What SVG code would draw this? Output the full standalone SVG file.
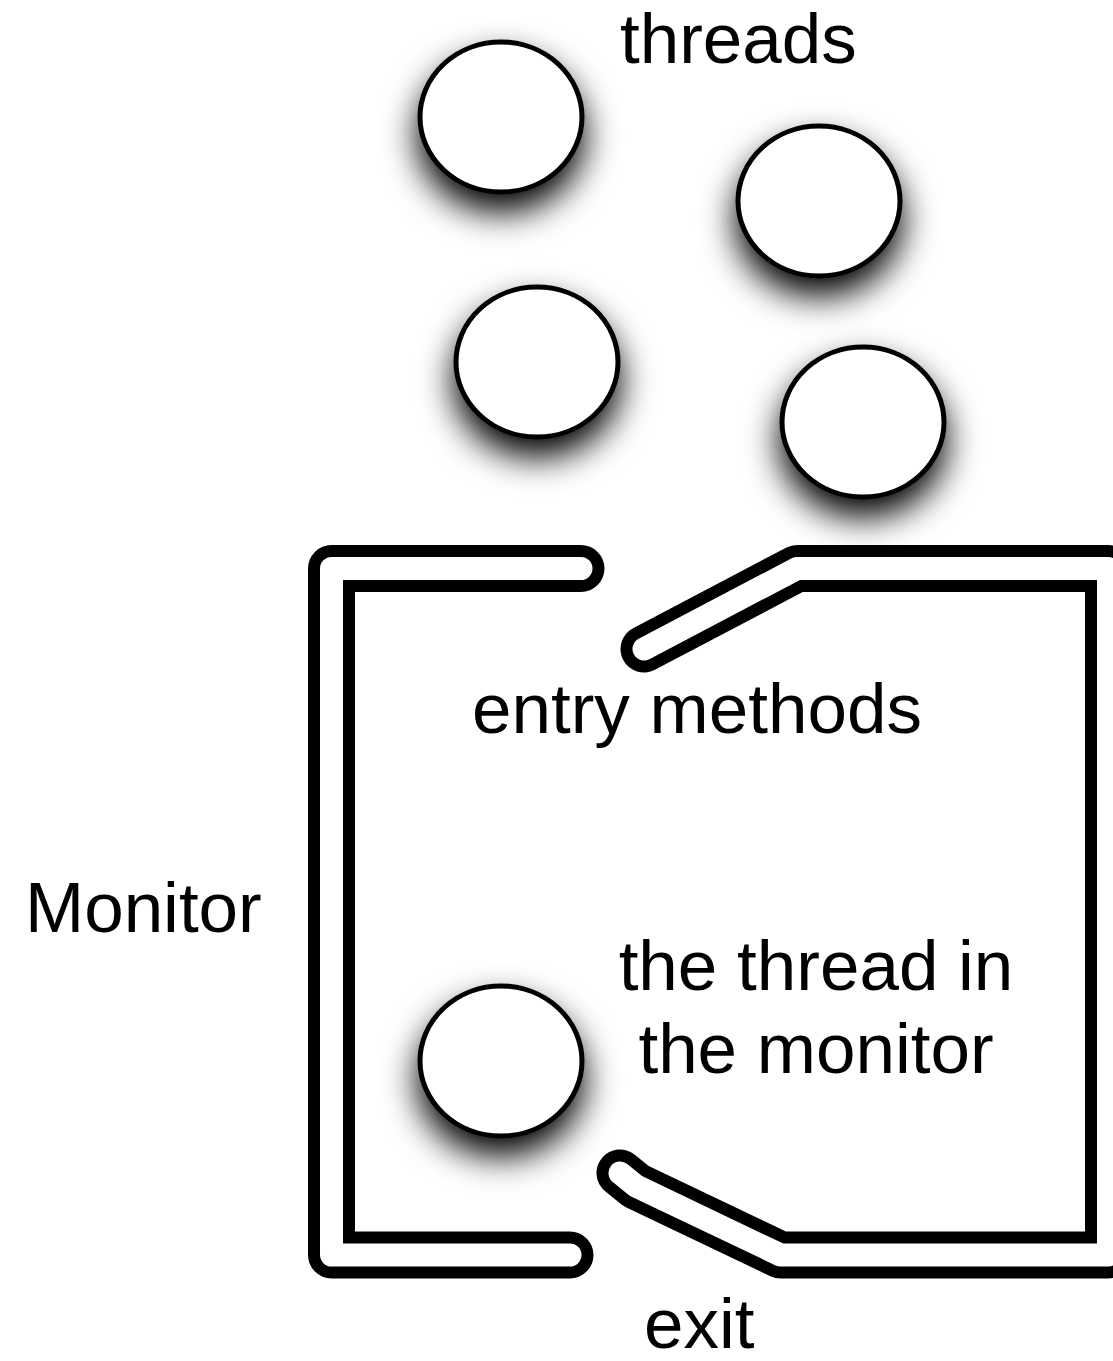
<svg xmlns="http://www.w3.org/2000/svg" width="1113" height="1361" viewBox="0 0 1113 1361">
<style>
.lbl{font-family:"Liberation Sans",Arial,Helvetica,sans-serif;font-size:71px;fill:#000}
.thr{fill:#fff;stroke:#000;stroke-width:5;filter:url(#sh)}
.wo{fill:none;stroke:#000;stroke-width:47;stroke-linejoin:round;stroke-linecap:round}
.wi{fill:none;stroke:#fff;stroke-width:23;stroke-linejoin:round;stroke-linecap:round}
</style>
<defs>
<filter id="sh" x="-60%" y="-60%" width="220%" height="240%" color-interpolation-filters="sRGB">
<feGaussianBlur in="SourceAlpha" stdDeviation="17"/>
<feOffset dx="0" dy="18" result="b"/>
<feComponentTransfer in="b" result="s"><feFuncA type="linear" slope="1"/></feComponentTransfer>
<feMerge><feMergeNode in="s"/><feMergeNode in="SourceGraphic"/></feMerge>
</filter>
</defs>
<rect width="1113" height="1361" fill="#fff"/>
<g id="monitor-walls">
<g id="wall-left">
<path class="wo" d="M581 568.5 L331.5 568.5 L331.5 1255 L570 1255"/>
<path class="wi" d="M581 568.5 L331.5 568.5 L331.5 1255 L570 1255"/>
</g>
<g id="wall-right">
<path class="wo" d="M644 649 L797 568.5 L1108.5 568.5 L1108.5 1255 L780.5 1255 L636 1186 L620 1173"/>
<path class="wi" d="M644 649 L797 568.5 L1108.5 568.5 L1108.5 1255 L780.5 1255 L636 1186 L620 1173"/>
</g>
</g>
<g id="thread1"><ellipse class="thr" cx="501" cy="117" rx="81" ry="75"/></g>
<g id="thread2"><ellipse class="thr" cx="819" cy="201" rx="81" ry="75"/></g>
<g id="thread3"><ellipse class="thr" cx="537" cy="362" rx="81" ry="75"/></g>
<g id="thread4"><ellipse class="thr" cx="863" cy="422" rx="81" ry="75"/></g>
<g id="thread-in-monitor"><ellipse class="thr" cx="501" cy="1061" rx="81" ry="75"/></g>
<g id="labels">
<text class="lbl" x="620" y="63">threads</text>
<text class="lbl" x="472" y="733">entry methods</text>
<text class="lbl" x="25" y="932">Monitor</text>
<text class="lbl" x="816" y="990" text-anchor="middle">the thread in</text>
<text class="lbl" x="816" y="1073" text-anchor="middle">the monitor</text>
<text class="lbl" x="644" y="1348">exit</text>
</g>
</svg>
